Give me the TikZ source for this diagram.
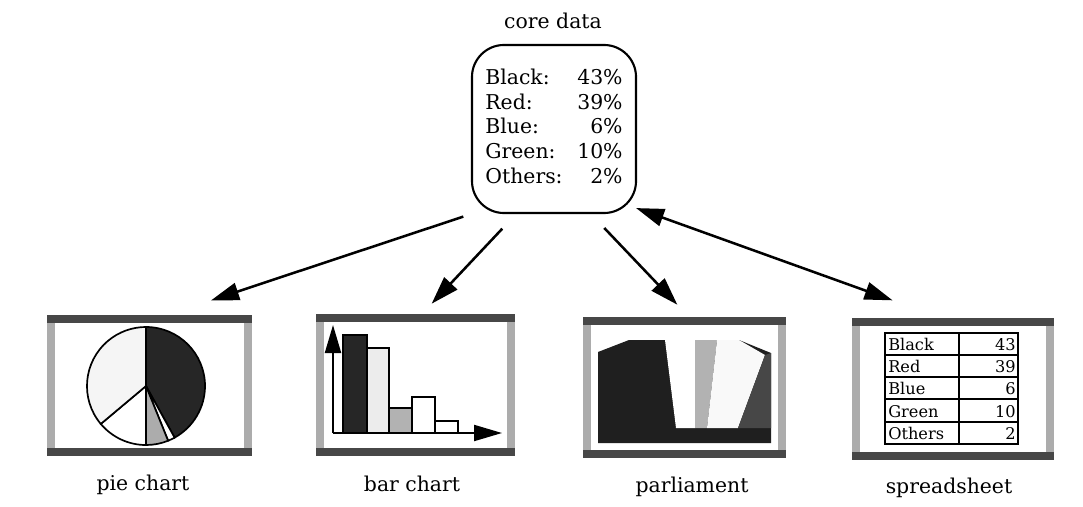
\documentclass[tikz,border=0pt]{standalone}
\usepackage{fontspec}
\setmainfont{DejaVu Serif}
\usetikzlibrary{arrows.meta, calc}

\begin{document}
\begin{tikzpicture}[
  x=0.025cm, y=-0.025cm,
  >={Triangle[length=0.7cm, width=0.44cm]},
  chartname/.style={font=\fontsize{14.5}{17}\selectfont, anchor=base},
  core/.style={draw, line width=1.5pt, rounded corners=0.8cm,
               minimum width=4.1cm, minimum height=4.2cm, inner sep=0pt,
               font=\fontsize{14.5}{17.6}\selectfont},
  panel/.style={draw=gray!65, line width=0.2cm, fill=white, inner sep=0pt, outer sep=0pt},
  rim/.style={black!72, line width=0.2cm, line cap=rect},
  link/.style={line width=1.8pt},
  wedge/.style={draw, line width=1.2pt},
  barbox/.style={draw, line width=1pt},
  axis/.style={line width=1.5pt, -{Triangle[length=0.7cm, width=0.4cm]}},
  grid/.style={line width=1pt},
  cell/.style={font=\fontsize{11.5}{13}\selectfont, inner sep=0pt},
]
\useasboundingbox (0,0) rectangle (1083,506);

% core data
\node[chartname] (title) at (553,28) {core data};
\node[core] (core) at (554,129) {%
  \begin{tabular*}{3.43cm}{@{}l@{\extracolsep{\fill}}r@{}}
    Black: & 43\% \\
    Red: & 39\% \\
    Blue: & 6\% \\
    Green: & 10\% \\
    Others: & 2\%
  \end{tabular*}};

% the four views
\node[panel, minimum width=4.9cm, minimum height=3.3cm] (pie) at (149.5,385.5) {};
\node[panel, minimum width=4.75cm, minimum height=3.325cm] (bar) at (415.5,385) {};
\node[panel, minimum width=4.85cm, minimum height=3.3cm] (parl) at (684.5,387.5) {};
\node[panel, minimum width=4.825cm, minimum height=3.325cm] (sheet) at (953,389) {};

\draw[rim] (pie.north west) -- (pie.north east);
\draw[rim] (pie.south west) -- (pie.south east);
\draw[rim] (bar.north west) -- (bar.north east);
\draw[rim] (bar.south west) -- (bar.south east);
\draw[rim] (parl.north west) -- (parl.north east);
\draw[rim] (parl.south west) -- (parl.south east);
\draw[rim] (sheet.north west) -- (sheet.north east);
\draw[rim] (sheet.south west) -- (sheet.south east);

\node[chartname] (piename) at (143,490) {pie chart};
\node[chartname] (barname) at (412,491) {bar chart};
\node[chartname] (parlname) at (692,492) {parliament};
\node[chartname] (sheetname) at (949,493) {spreadsheet};

% arrows
\draw[link, ->, shorten <=0.2cm, shorten >=1.2cm] (core.south west) -- ($(pie.north)+(16,-4)$);
\draw[link, ->, shorten <=0.5cm, shorten >=0.37cm] ($(core.south)+(-38,0)$) -- ($(bar.north)+(6,-4)$);
\draw[link, ->, shorten <=0.48cm, shorten >=0.44cm] ($(core.south)+(37,0)$) -- ($(parl.north)+(5,-4)$);
\draw[link, <->, shorten >=1.34cm] ($(core.south east)+(-1,-6)$) -- ($(sheet.north)+(-10,-4)$);

% pie chart
\coordinate (pc) at (146,386);
\filldraw[wedge, fill=black!85] (pc) -- ++(90:1.475cm) arc[start angle=90, end angle=-61, radius=1.475cm] -- cycle;
\filldraw[wedge, fill=white] (pc) -- ++(-61:1.475cm) arc[start angle=-61, end angle=-68, radius=1.475cm] -- cycle;
\filldraw[wedge, fill=gray!65] (pc) -- ++(-68:1.475cm) arc[start angle=-68, end angle=-90, radius=1.475cm] -- cycle;
\filldraw[wedge, fill=white] (pc) -- ++(-90:1.475cm) arc[start angle=-90, end angle=-140, radius=1.475cm] -- cycle;
\filldraw[wedge, fill=gray!8] (pc) -- ++(-140:1.475cm) arc[start angle=-140, end angle=-270, radius=1.475cm] -- cycle;

% bar chart
\filldraw[barbox, fill=black!85] (343,433) rectangle (367,335);
\filldraw[barbox, fill=gray!15] (367,433) rectangle (389,348);
\filldraw[barbox, fill=gray!60] (389,433) rectangle (412,408);
\filldraw[barbox, fill=white] (412,433) rectangle (435,397);
\filldraw[barbox, fill=white] (435,433) rectangle (458,421);
\coordinate (bo) at (333,433);
\draw[axis] (bo) -- (333,325);
\draw[axis] (bo) -- (502,433);

% parliament
\fill[black!88] (598,352) -- (629,340) -- (739,340) -- (771,353) -- (771,443) -- (598,443) -- cycle;
\fill[white] (665,340) -- (695,340) -- (695,428) -- (676,428) -- cycle;
\fill[gray!60] (695,340) -- (717,340) -- (707,428) -- (695,428) -- cycle;
\fill[gray!5] (717,340) -- (739,340) -- (765,355) -- (738,428) -- (707,428) -- cycle;
\fill[black!72] (765,355) -- (771,353) -- (771,428) -- (738,428) -- cycle;

% spreadsheet
\draw[grid] (885,333) rectangle (1018,444);
\draw[grid] (885,355) -- (1018,355);
\draw[grid] (885,377) -- (1018,377);
\draw[grid] (885,399) -- (1018,399);
\draw[grid] (885,422) -- (1018,422);
\draw[grid] (959,333) -- (959,444);
\node[cell, anchor=base west] (k1) at (888,350) {Black};
\node[cell, anchor=base east] (v1) at (1016,350) {43};
\node[cell, anchor=base west] (k2) at (888,372) {Red};
\node[cell, anchor=base east] (v2) at (1016,372) {39};
\node[cell, anchor=base west] (k3) at (888,394) {Blue};
\node[cell, anchor=base east] (v3) at (1016,394) {6};
\node[cell, anchor=base west] (k4) at (888,417) {Green};
\node[cell, anchor=base east] (v4) at (1016,417) {10};
\node[cell, anchor=base west] (k5) at (888,439) {Others};
\node[cell, anchor=base east] (v5) at (1016,439) {2};

\end{tikzpicture}
\end{document}
